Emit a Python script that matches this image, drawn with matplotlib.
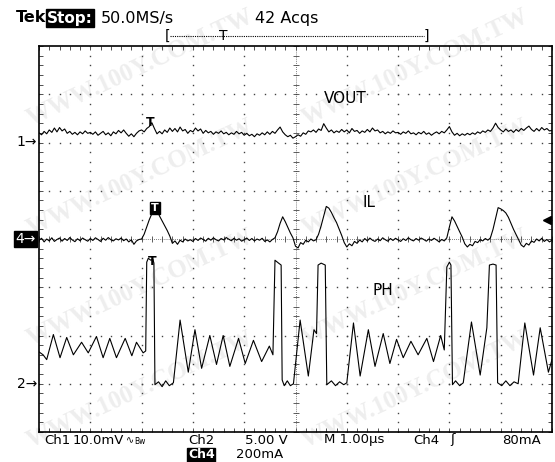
import numpy as np
import matplotlib
matplotlib.use('Agg')
import matplotlib.pyplot as plt
from matplotlib.lines import Line2D

# scope setup
n_xdiv, n_ydiv = 10, 8
ch1_per_div = 10.0      # mV/div  VOUT
ch2_per_div = 5.0       # V/div   PH
ch4_per_div = 200.0     # mA/div  IL
ch1_ref, ch4_ref, ch2_ref = 6, 4, 1   # ground markers, div from bottom
trig_t = 2.2            # us from left edge of screen
trig_level = 80.0       # mA on ch4
dt = 0.05               # us between samples of VOUT and IL

# VOUT, mV (ac ripple), one sample every dt
vout_mv = [
    2.0, 1.6, 2.3, 1.8, 2.6, 2.1, 3.0, 2.2, 3.1, 2.4, 2.8, 1.9, 2.3, 1.7, 2.1, 1.6, 2.2, 1.8, 2.4, 1.9,
    2.1, 1.7, 2.2, 1.5, 1.9, 2.3, 1.6, 2.0, 1.4, 2.2, 1.8, 2.5, 2.0, 2.6, 1.9, 1.3, 1.8, 1.2, 1.9, 2.4,
    2.6, 2.2, 2.9, 3.3, 4.1, 2.9, 1.8, 2.3, 1.8, 2.6, 2.1, 3.0, 2.3, 2.9, 2.2, 3.2, 2.4, 2.7, 1.9, 2.5,
    2.2, 3.0, 2.4, 2.8, 1.9, 2.5, 2.0, 2.3, 1.7, 2.2, 1.9, 2.4, 1.8, 2.1, 1.6, 2.0, 1.7, 2.3, 1.8, 2.1,
    1.5, 1.9, 1.4, 1.7, 1.2, 1.8, 1.5, 2.0, 1.6, 2.2, 1.7, 2.3, 1.9, 2.6, 3.2, 2.2, 1.6, 1.2, 1.5, 0.9,
    1.2, 1.6, 1.3, 2.0, 1.7, 2.4, 2.2, 2.6, 2.1, 2.8, 2.5, 3.9, 3.0, 2.2, 2.6, 2.0, 2.4, 2.1, 2.7, 2.2,
    2.6, 2.0, 2.9, 2.3, 2.5, 1.9, 2.4, 2.1, 2.7, 2.2, 3.0, 2.4, 2.6, 2.0, 2.3, 1.8, 2.2, 1.9, 2.4, 2.0,
    2.1, 1.7, 2.2, 1.9, 2.4, 1.8, 2.0, 1.6, 2.1, 1.8, 2.3, 1.7, 2.0, 1.5, 1.9, 2.2, 1.8, 2.3, 2.0, 2.6,
    3.3, 2.2, 1.5, 1.9, 1.4, 1.8, 1.5, 1.9, 1.6, 2.0, 1.7, 2.2, 1.9, 2.4, 2.1, 2.6, 2.3, 3.0, 4.0, 3.1,
    2.6, 2.2, 2.8, 2.3, 2.6, 2.1, 2.7, 2.3, 2.9, 2.5, 3.0, 3.4, 2.7, 2.3, 2.9, 2.4, 3.1, 2.6, 2.9, 2.4,
    2.5,
]

# IL, mA, one sample every dt
il_ma = [
    -5, 3, -12, 0, -8, 5, -10, -2, 4, -9, 2, -6, 6, -4, -11, 1, -7, 4, -3, -9,
    2, -6, 5, -2, -10, 3, -5, 6, -3, -8, 1, -4, 4, -7, 0, -12, -3, -22, -8, -2,
    0, 20, 50, 80, 105, 125, 118, 95, 75, 55, 35, 12, -18, -8, -22, -5, -12, 0, -8, -3,
    -10, 2, -6, 4, -2, -9, 3, -5, 5, -3, -8, 2, -4, 6, -1, -7, 3, -5, 1, -9,
    -3, 4, -6, 2, -8, 0, -5, 3, -10, -4, -12, -2, 5, 30, 65, 92, 72, 48, 25, 5,
    -30, -37, -15, -22, -5, -12, 0, -8, -3, 20, 55, 95, 135, 128, 110, 88, 68, 42, 15, -15,
    -33, -20, -28, -10, -18, -4, -12, 2, -8, 4, -5, -10, 0, -7, 5, -3, -9, 2, -6, 3,
    -4, -10, 1, -6, 5, -3, -8, 2, -5, 4, -2, -9, 0, -6, 3, -4, -12, -2, -8, 5,
    50, 92, 75, 52, 30, 8, -20, -33, -22, -28, -10, -15, -3, -8, 2, -5, 5, 40, 85, 130,
    125, 118, 108, 90, 65, 40, 18, -5, -25, -33, -18, -25, -8, -14, 0, -8, 3, -10, -2, -12,
    -5,
]

# PH switch node, V, read as breakpoints (us, V)
ph_t = [0.00, 0.08, 0.15, 0.28, 0.41, 0.54, 0.67, 0.83, 0.96, 1.12, 1.25, 1.38, 1.51, 1.68, 1.81, 1.90,
        2.03, 2.08, 2.10, 2.13, 2.18, 2.22, 2.24, 2.26, 2.33, 2.40, 2.47, 2.54, 2.62,
        2.75, 2.91, 3.04, 3.17, 3.33, 3.46, 3.59, 3.72, 3.89, 4.02, 4.18, 4.34, 4.49, 4.56,
        4.60, 4.67, 4.72, 4.74, 4.78, 4.84, 4.90, 4.96,
        5.09, 5.25, 5.36, 5.41, 5.44, 5.50, 5.58, 5.61, 5.70, 5.78, 5.86, 5.94, 6.00,
        6.13, 6.26, 6.42, 6.55, 6.71, 6.84, 6.97, 7.10, 7.25, 7.39, 7.56, 7.69, 7.83, 7.90,
        7.95, 8.00, 8.03, 8.06, 8.12, 8.20, 8.27,
        8.43, 8.60, 8.73, 8.78, 8.85, 8.91, 8.94, 9.02, 9.10, 9.18, 9.26, 9.34,
        9.47, 9.64, 9.77, 9.93, 10.0]
ph_v = [3.3, 3.0, 2.5, 5.1, 2.7, 4.8, 3.0, 4.3, 3.2, 4.9, 2.7, 4.7, 2.7, 4.7, 2.9, 4.3,
        3.2, 3.4, 12.6, 13.0, 12.8, 12.9, 12.5, -0.1, 0.2, -0.3, 0.3, -0.2, 0.1,
        6.6, 1.2, 5.6, 1.6, 5.0, 2.0, 5.0, 1.8, 4.7, 2.1, 4.5, 2.3, 3.9, 3.0,
        12.8, 12.5, 12.3, 0.4, -0.2, 0.3, -0.2, 0.0,
        6.6, 0.8, 5.6, 5.2, 12.3, 12.5, 12.3, -0.1, 0.3, -0.2, 0.2, -0.1, 0.1,
        6.3, 0.8, 5.6, 1.8, 5.2, 2.1, 4.6, 2.7, 4.4, 3.0, 4.7, 2.3, 5.0, 3.5,
        12.1, 12.6, 12.3, -0.1, 0.3, -0.2, 0.1,
        6.4, 0.9, 5.8, 12.3, 12.4, 12.3, 0.1, -0.2, 0.3, -0.2, 0.2, 0.0,
        6.3, 0.9, 5.8, 1.2, 2.5]

W, H = 555, 462


def fx(px):
    return px / W


def fy(py):
    return 1 - py / H


fig = plt.figure(figsize=(5.55, 4.62), dpi=100)
ax = fig.add_axes([fx(39), fy(432), 513 / W, 386 / H])
ax.patch.set_visible(False)

# faint watermark behind everything
for cx, cy in [(140, 68), (415, 68), (140, 178), (415, 178), (140, 288), (415, 288), (140, 390), (415, 390)]:
    fig.text(fx(cx), fy(cy), 'WWW.100Y.COM.TW', rotation=25, ha='center', va='center',
             fontsize=18, fontweight='bold', family='Liberation Serif', color='#eeeeee', zorder=-5)

ax.set_xlim(0, n_xdiv)
ax.set_ylim(0, n_ydiv)

# graticule: dotted major lines, border ticks, centre cross with ticks
minor_x = np.arange(0, n_xdiv + 0.01, 0.2)
minor_y = np.arange(0, n_ydiv + 0.01, 0.2)
for i in range(1, n_xdiv):
    if i == n_xdiv // 2:
        continue
    ax.plot(np.full(len(minor_y), i), minor_y, ls='none', marker='s', ms=1.0, mew=0, color='#444')
for j in range(1, n_ydiv):
    if j == n_ydiv // 2:
        continue
    ax.plot(minor_x, np.full(len(minor_x), j), ls='none', marker='s', ms=1.0, mew=0, color='#444')
cx0, cy0 = n_xdiv / 2, n_ydiv / 2
ax.axvline(cx0, color='#555', lw=0.6, ls=(0, (1, 1.5)))
ax.axhline(cy0, color='#555', lw=0.6, ls=(0, (1, 1.5)))
ax.plot(np.full(len(minor_y), cx0), minor_y, ls='none', marker='_', ms=5, mew=0.6, color='#444')
ax.plot(minor_x, np.full(len(minor_x), cy0), ls='none', marker='|', ms=5, mew=0.6, color='#444')

ax.set_xticks(minor_x)
ax.set_yticks(minor_y)
ax.tick_params(direction='in', length=3, width=0.6, top=True, right=True,
               labelbottom=False, labelleft=False, colors='#333')
for s in ax.spines.values():
    s.set_linewidth(1.2)
    s.set_color('k')

# traces
ts = np.arange(len(vout_mv)) * dt
ax.plot(ts, ch1_ref + np.array(vout_mv) / ch1_per_div, color='k', lw=0.8)
ti = np.arange(len(il_ma)) * dt
ax.plot(ti, ch4_ref + np.array(il_ma) / ch4_per_div, color='k', lw=0.8)
ax.plot(ph_t, ch2_ref + np.array(ph_v) / ch2_per_div, color='k', lw=0.8)

# trigger markers on the traces
ax.text(trig_t - 0.04, 6.42, 'T', ha='center', va='center', fontsize=9, fontweight='bold')
ax.text(trig_t + 0.06, 4.64, 'T', ha='center', va='center', fontsize=8, fontweight='bold',
        color='white', bbox=dict(boxstyle='square,pad=0.12', fc='k', ec='k'))
ax.text(trig_t, 3.53, 'T', ha='center', va='center', fontsize=9, fontweight='bold')
ax.plot(n_xdiv - 0.1, ch4_ref + trig_level / ch4_per_div, marker='<', ms=6, color='k', clip_on=False)

# channel names
ax.text(5.55, 6.92, 'VOUT', fontsize=11, va='center')
ax.text(6.3, 4.75, 'IL', fontsize=11, va='center')
ax.text(6.5, 2.93, 'PH', fontsize=11, va='center')

# ground markers on the left
trans = ax.get_yaxis_transform()
ax.text(-0.004, ch1_ref, '1\u2192', transform=trans, ha='right', va='center', fontsize=10)
ax.text(-0.004, ch2_ref, '2\u2192', transform=trans, ha='right', va='center', fontsize=10)
ax.text(-0.006, ch4_ref, '4\u2192', transform=trans, ha='right', va='center', fontsize=10,
        color='white', bbox=dict(boxstyle='square,pad=0.1', fc='k', ec='k'))

# header
fig.text(fx(16), fy(18), 'Tek', fontsize=11.5, va='center', fontweight='bold')
fig.text(fx(47), fy(18), 'Stop:', fontsize=11, va='center', color='white', fontweight='bold',
         bbox=dict(boxstyle='square,pad=0.08', fc='k', ec='k'))
fig.text(fx(101), fy(18), '50.0MS/s', fontsize=11.5, va='center')
fig.text(fx(255), fy(18), '42 Acqs', fontsize=11.5, va='center')
fig.add_artist(Line2D([fx(170), fx(424)], [fy(36), fy(36)], transform=fig.transFigure,
                      color='k', lw=0.8, ls=(0, (1, 1))))
fig.text(fx(168), fy(36), '[', fontsize=10, ha='center', va='center')
fig.text(fx(426), fy(36), ']', fontsize=10, ha='center', va='center')
fig.text(fx(223), fy(36), 'T', fontsize=10, ha='center', va='center')

# footer
y1, y2 = fy(440), fy(455)
fig.text(fx(44), y1, 'Ch1', fontsize=9.5, va='center')
fig.text(fx(73), y1, '10.0mV', fontsize=9.5, va='center')
fig.text(fx(126), y1, '\u223f', fontsize=7, va='center')
fig.text(fx(134), y1 - 0.004, 'Bw', fontsize=5.5, va='center')
fig.text(fx(188), y1, 'Ch2', fontsize=9.5, va='center')
fig.text(fx(245), y1, '5.00 V', fontsize=9.5, va='center')
fig.text(fx(324), y1, 'M 1.00\u00b5s', fontsize=9.5, va='center')
fig.text(fx(413), y1, 'Ch4', fontsize=9.5, va='center')
fig.text(fx(450), y1, '\u0283', fontsize=9.5, va='center')
fig.text(fx(502), y1, '80mA', fontsize=9.5, va='center')
fig.text(fx(188), y2, 'Ch4', fontsize=9, va='center', color='white', fontweight='bold',
         bbox=dict(boxstyle='square,pad=0.05', fc='k', ec='k'))
fig.text(fx(236), y2, '200mA', fontsize=9.5, va='center')

fig.savefig('out.png', dpi=100)
